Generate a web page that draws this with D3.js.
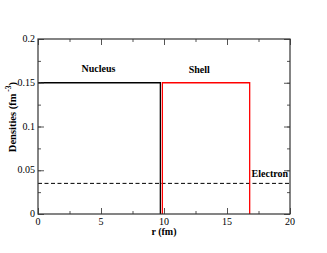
<!DOCTYPE html>
<html><head><meta charset="utf-8">
<script src="https://cdn.jsdelivr.net/npm/d3@7"></script>
<style>body{margin:0;background:#fff}svg{display:block}</style>
</head><body>
<script>
const xTicks = [0, 5, 10, 15, 20];
const yTicks = [0, 0.05, 0.1, 0.15, 0.2];
const yTickLabels = ["0", "0.05", "0.1", "0.15", "0.2"];
const nucleusR = [0, 9.71, 9.71];
const nucleusD = [0.15, 0.15, 0];
const shellR = [9.87, 9.87, 16.8, 16.8];
const shellD = [0, 0.15, 0.15, 0];
const electronR = [0, 20];
const electronD = [0.035, 0.035];
const labels = [
  {text: "Nucleus", r: 4.8, d: 0.162},
  {text: "Shell", r: 12.8, d: 0.161},
  {text: "Electron", r: 18.4, d: 0.042}
];

const W = 327, H = 253;
const m = {l: 38, r: 290, t: 39, b: 214};
const svg = d3.select("body").append("svg").attr("width", W).attr("height", H);
const x = d3.scaleLinear().domain([0, 20]).range([m.l, m.r]);
const y = d3.scaleLinear().domain([0, 0.2]).range([m.b, m.t]);
const font = "'Liberation Serif', 'Times New Roman', serif";

// data lines
const line = d3.line().x(d => x(d[0])).y(d => y(d[1]));
svg.append("path").datum(d3.zip(electronR, electronD)).attr("d", line)
  .attr("fill", "none").attr("stroke", "#000").attr("stroke-width", 1).attr("stroke-dasharray", "4,2.5");
svg.append("path").datum(d3.zip(nucleusR, nucleusD)).attr("d", line)
  .attr("fill", "none").attr("stroke", "#000").attr("stroke-width", 1.3);
svg.append("path").datum(d3.zip(shellR, shellD)).attr("d", line)
  .attr("fill", "none").attr("stroke", "#f00").attr("stroke-width", 1.3);

// axes (inward ticks, mirrored)
const minorX = d3.range(0, 20.01, 2.5), minorY = d3.range(0, 0.2001, 0.025);
const axisCol = "#555";
function axis(gen, tr, values, size) {
  const g = svg.append("g").attr("transform", tr)
    .call(gen.tickValues(values).tickSize(size).tickFormat(""));
  g.select(".domain").remove();
  g.selectAll("line").attr("stroke", axisCol);
  return g;
}
axis(d3.axisBottom(x), `translate(0,${m.b})`, minorX, -3);
axis(d3.axisBottom(x), `translate(0,${m.b})`, xTicks, -6);
axis(d3.axisTop(x), `translate(0,${m.t})`, minorX, -3);
axis(d3.axisTop(x), `translate(0,${m.t})`, xTicks, -6);
axis(d3.axisLeft(y), `translate(${m.l},0)`, minorY, -3);
axis(d3.axisLeft(y), `translate(${m.l},0)`, yTicks, -6);
axis(d3.axisRight(y), `translate(${m.r},0)`, minorY, -3);
axis(d3.axisRight(y), `translate(${m.r},0)`, yTicks, -6);
svg.append("rect").attr("x", m.l).attr("y", m.t).attr("width", m.r - m.l).attr("height", m.b - m.t)
  .attr("fill", "none").attr("stroke", "#333").attr("stroke-width", 1.2);

// tick labels
svg.append("g").selectAll("text").data(xTicks).join("text")
  .attr("x", d => x(d)).attr("y", m.b + 11).attr("text-anchor", "middle")
  .attr("font-family", font).attr("font-size", 10).text(d => d);
svg.append("g").selectAll("text").data(yTicks).join("text")
  .attr("x", m.l - 3).attr("y", d => y(d) + 3).attr("text-anchor", "end")
  .attr("font-family", font).attr("font-size", 10).text((d, i) => yTickLabels[i]);

// axis titles
svg.append("text").attr("x", (m.l + m.r) / 2).attr("y", 235).attr("text-anchor", "middle")
  .attr("font-family", font).attr("font-size", 10).attr("font-weight", "bold").text("r (fm)");
const yl = svg.append("text").attr("transform", `translate(16,117) rotate(-90)`)
  .attr("text-anchor", "middle").attr("font-family", font).attr("font-size", 10.5).attr("font-weight", "bold");
yl.append("tspan").text("Densities (fm");
yl.append("tspan").attr("font-size", 7.5).attr("dy", -5).text(" -3");
yl.append("tspan").attr("dy", 5).text(")");

// series labels
svg.append("g").selectAll("text").data(labels).join("text")
  .attr("x", d => x(d.r)).attr("y", d => y(d.d)).attr("text-anchor", "middle")
  .attr("font-family", font).attr("font-size", 10).attr("font-weight", "bold").text(d => d.text);
</script>
</body></html>
